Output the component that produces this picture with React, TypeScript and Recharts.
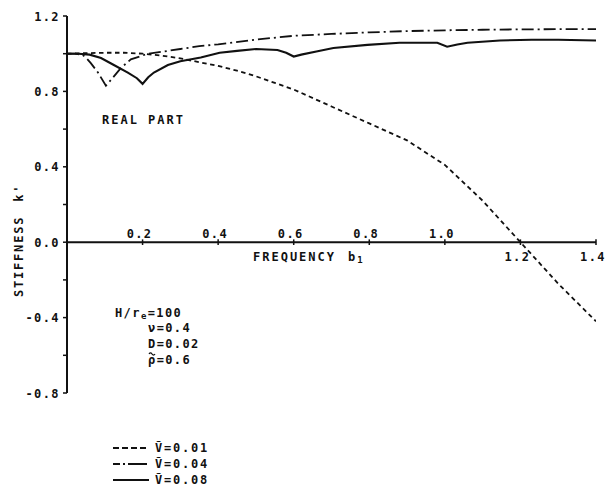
import { LineChart, Line, XAxis, YAxis, ReferenceLine, Legend, Customized } from "recharts";

// frequency b1 / real part of stiffness k' for each velocity ratio
const FREQ_V001 = [0, 0.05, 0.1, 0.15, 0.2, 0.25, 0.3, 0.35, 0.4, 0.45, 0.5, 0.55, 0.6, 0.7, 0.8, 0.9, 1.0, 1.1, 1.2, 1.3, 1.4];
const K_V001 = [1.0, 1.003, 1.005, 1.005, 1.0, 0.99, 0.975, 0.955, 0.935, 0.91, 0.88, 0.845, 0.81, 0.72, 0.63, 0.54, 0.41, 0.22, 0.0, -0.22, -0.42];

const FREQ_V004 = [0, 0.02, 0.04, 0.05, 0.063, 0.082, 0.103, 0.116, 0.143, 0.169, 0.214, 0.25, 0.3, 0.35, 0.4, 0.5, 0.6, 0.7, 0.8, 0.9, 1.0, 1.1, 1.2, 1.3, 1.4];
const K_V004 = [1.0, 1.0, 0.995, 0.98, 0.95, 0.9, 0.83, 0.86, 0.925, 0.97, 1.0, 1.01, 1.025, 1.04, 1.05, 1.075, 1.095, 1.105, 1.113, 1.12, 1.124, 1.127, 1.129, 1.13, 1.13];

const FREQ_V008 = [0, 0.03, 0.06, 0.09, 0.124, 0.161, 0.185, 0.2, 0.215, 0.23, 0.267, 0.3, 0.354, 0.404, 0.45, 0.5, 0.557, 0.58, 0.6, 0.62, 0.66, 0.705, 0.795, 0.88, 0.98, 1.006, 1.033, 1.06, 1.146, 1.23, 1.3, 1.4];
const K_V008 = [1.0, 1.0, 0.995, 0.977, 0.94, 0.9, 0.87, 0.84, 0.875, 0.9, 0.94, 0.96, 0.98, 1.005, 1.015, 1.025, 1.02, 1.005, 0.985, 0.995, 1.012, 1.03, 1.047, 1.058, 1.058, 1.037, 1.049, 1.058, 1.07, 1.074, 1.074, 1.07];

const SERIES_NAMES = ["Ṽ=0.01", "Ṽ=0.04", "Ṽ=0.08"];
const X_TICKS = [0.2, 0.4, 0.6, 0.8, 1.0, 1.2, 1.4];
const X_TICK_LABELS = ["0.2", "0.4", "0.6", "0.8", "1.0", "1.2", "1.4"];
const Y_TICKS = [-0.8, -0.6, -0.4, -0.2, 0, 0.2, 0.4, 0.6, 0.8, 1.0, 1.2];
// soil parameters; the last symbol carries a tilde accent
const PARAM_SYMBOLS = ["ν", "D", "ρ"];
const PARAM_TILDE = [false, false, true];
const PARAM_VALUES = ["0.4", "0.02", "0.6"];

const FONT = "'DejaVu Sans Mono', 'Liberation Mono', monospace";
const INK = "#111";

const zip = (xs: number[], ys: number[]) => xs.map((x, i) => ({ x, k: ys[i] }));

const LINES = [
  { name: SERIES_NAMES[0], data: zip(FREQ_V001, K_V001), dash: "4.5 3.5", legendDash: "6 3", width: 1.8 },
  { name: SERIES_NAMES[1], data: zip(FREQ_V004, K_V004), dash: "12 4 2 4", legendDash: "7 3 2 3 12 0", width: 1.8 },
  { name: SERIES_NAMES[2], data: zip(FREQ_V008, K_V008), dash: undefined, legendDash: undefined, width: 2.1 },
];

const textStyle = { fontFamily: FONT, fontWeight: 700, fontSize: 12, letterSpacing: 1.4, fill: INK } as const;

const YTick = ({ x, y, payload }: any) => {
  const v = payload.value as number;
  if (Math.round(v * 10) % 4 !== 0) return null;
  return (
    <text x={x - 1} y={y + 4.5} textAnchor="end" style={textStyle}>
      {v.toFixed(1)}
    </text>
  );
};

const XTickLabel = ({ viewBox, text, below }: any) => {
  const x = viewBox.x - 3;
  const y = below ? viewBox.y + viewBox.height + 16 : viewBox.y - 1;
  return (
    <text x={x} y={y} textAnchor="middle" style={textStyle}>
      {text}
    </text>
  );
};

const Annotations = () => (
  <g>
    <text x={23} y={297} transform="rotate(-90 23 297)" style={{ ...textStyle, letterSpacing: 1.8 }}>
      STIFFNESS
      <tspan dx={14}>k'</tspan>
    </text>
    <text x={253} y={261} style={{ ...textStyle, letterSpacing: 2 }}>
      FREQUENCY
      <tspan dx={12}>b</tspan>
      <tspan fontSize={9} dy={2}>1</tspan>
    </text>
    <text x={102} y={124} style={{ ...textStyle, letterSpacing: 2 }}>
      REAL PART
    </text>
    <text x={115} y={317} style={textStyle}>
      H/r
      <tspan fontSize={9} dy={2}>e</tspan>
      <tspan dy={-2}>=100</tspan>
    </text>
    {PARAM_SYMBOLS.map((s, i) => {
      const y = 332 + i * 16;
      return (
        <g key={s}>
          <text x={148} y={y} style={textStyle}>
            {s}={PARAM_VALUES[i]}
          </text>
          {PARAM_TILDE[i] && (
            <path d={`M149 ${y - 10} q1.5 -2.2 3 0 t3 0`} fill="none" stroke={INK} strokeWidth={1.3} />
          )}
        </g>
      );
    })}
  </g>
);

const LegendBox = ({ payload }: any) => (
  <div style={{ fontFamily: FONT, fontWeight: 700, fontSize: 12, letterSpacing: 1.8, color: INK, lineHeight: "16px" }}>
    {(payload ?? []).map((entry: any) => {
      const line = LINES.find((l) => l.name === entry.value);
      return (
        <div key={entry.value} style={{ display: "flex", alignItems: "center", height: 16 }}>
          <svg width={40} height={8} style={{ marginRight: 2 }}>
            <line x1={0} x2={36} y1={4} y2={4} stroke={INK} strokeWidth={1.8} strokeDasharray={line?.legendDash} />
          </svg>
          <span>{entry.value}</span>
        </div>
      );
    })}
  </div>
);

export default function App() {
  return (
    <div style={{ position: "absolute", left: 0, top: 0, background: "#fff" }}>
      <LineChart width={608} height={487} margin={{ top: 16, right: 12, bottom: 94, left: 27 }}>
        <XAxis type="number" dataKey="x" domain={[0, 1.4]} hide allowDataOverflow />
        <YAxis
          type="number"
          domain={[-0.8, 1.2]}
          ticks={Y_TICKS}
          interval={0}
          width={40}
          axisLine={{ stroke: INK, strokeWidth: 2 }}
          tickLine={{ stroke: INK, strokeWidth: 1.5 }}
          tickSize={4}
          tick={<YTick />}
        />
        <ReferenceLine y={0} stroke={INK} strokeWidth={2} />
        {X_TICKS.map((t, i) => (
          <ReferenceLine
            key={t}
            segment={[{ x: t, y: -0.015 }, { x: t, y: 0.015 }]}
            stroke={INK}
            strokeWidth={1.5}
            label={<XTickLabel text={X_TICK_LABELS[i]} below={t > 1.1} />}
          />
        ))}
        {LINES.map((l) => (
          <Line
            key={l.name}
            name={l.name}
            data={l.data}
            dataKey="k"
            type="linear"
            stroke={INK}
            strokeWidth={l.width}
            strokeDasharray={l.dash}
            dot={false}
            activeDot={false}
            isAnimationActive={false}
          />
        ))}
        <Customized component={Annotations} />
        <Legend
          layout="vertical"
          verticalAlign="middle"
          align="center"
          content={<LegendBox />}
          wrapperStyle={{ left: 113, top: 440, width: "auto" }}
        />
      </LineChart>
    </div>
  );
}
